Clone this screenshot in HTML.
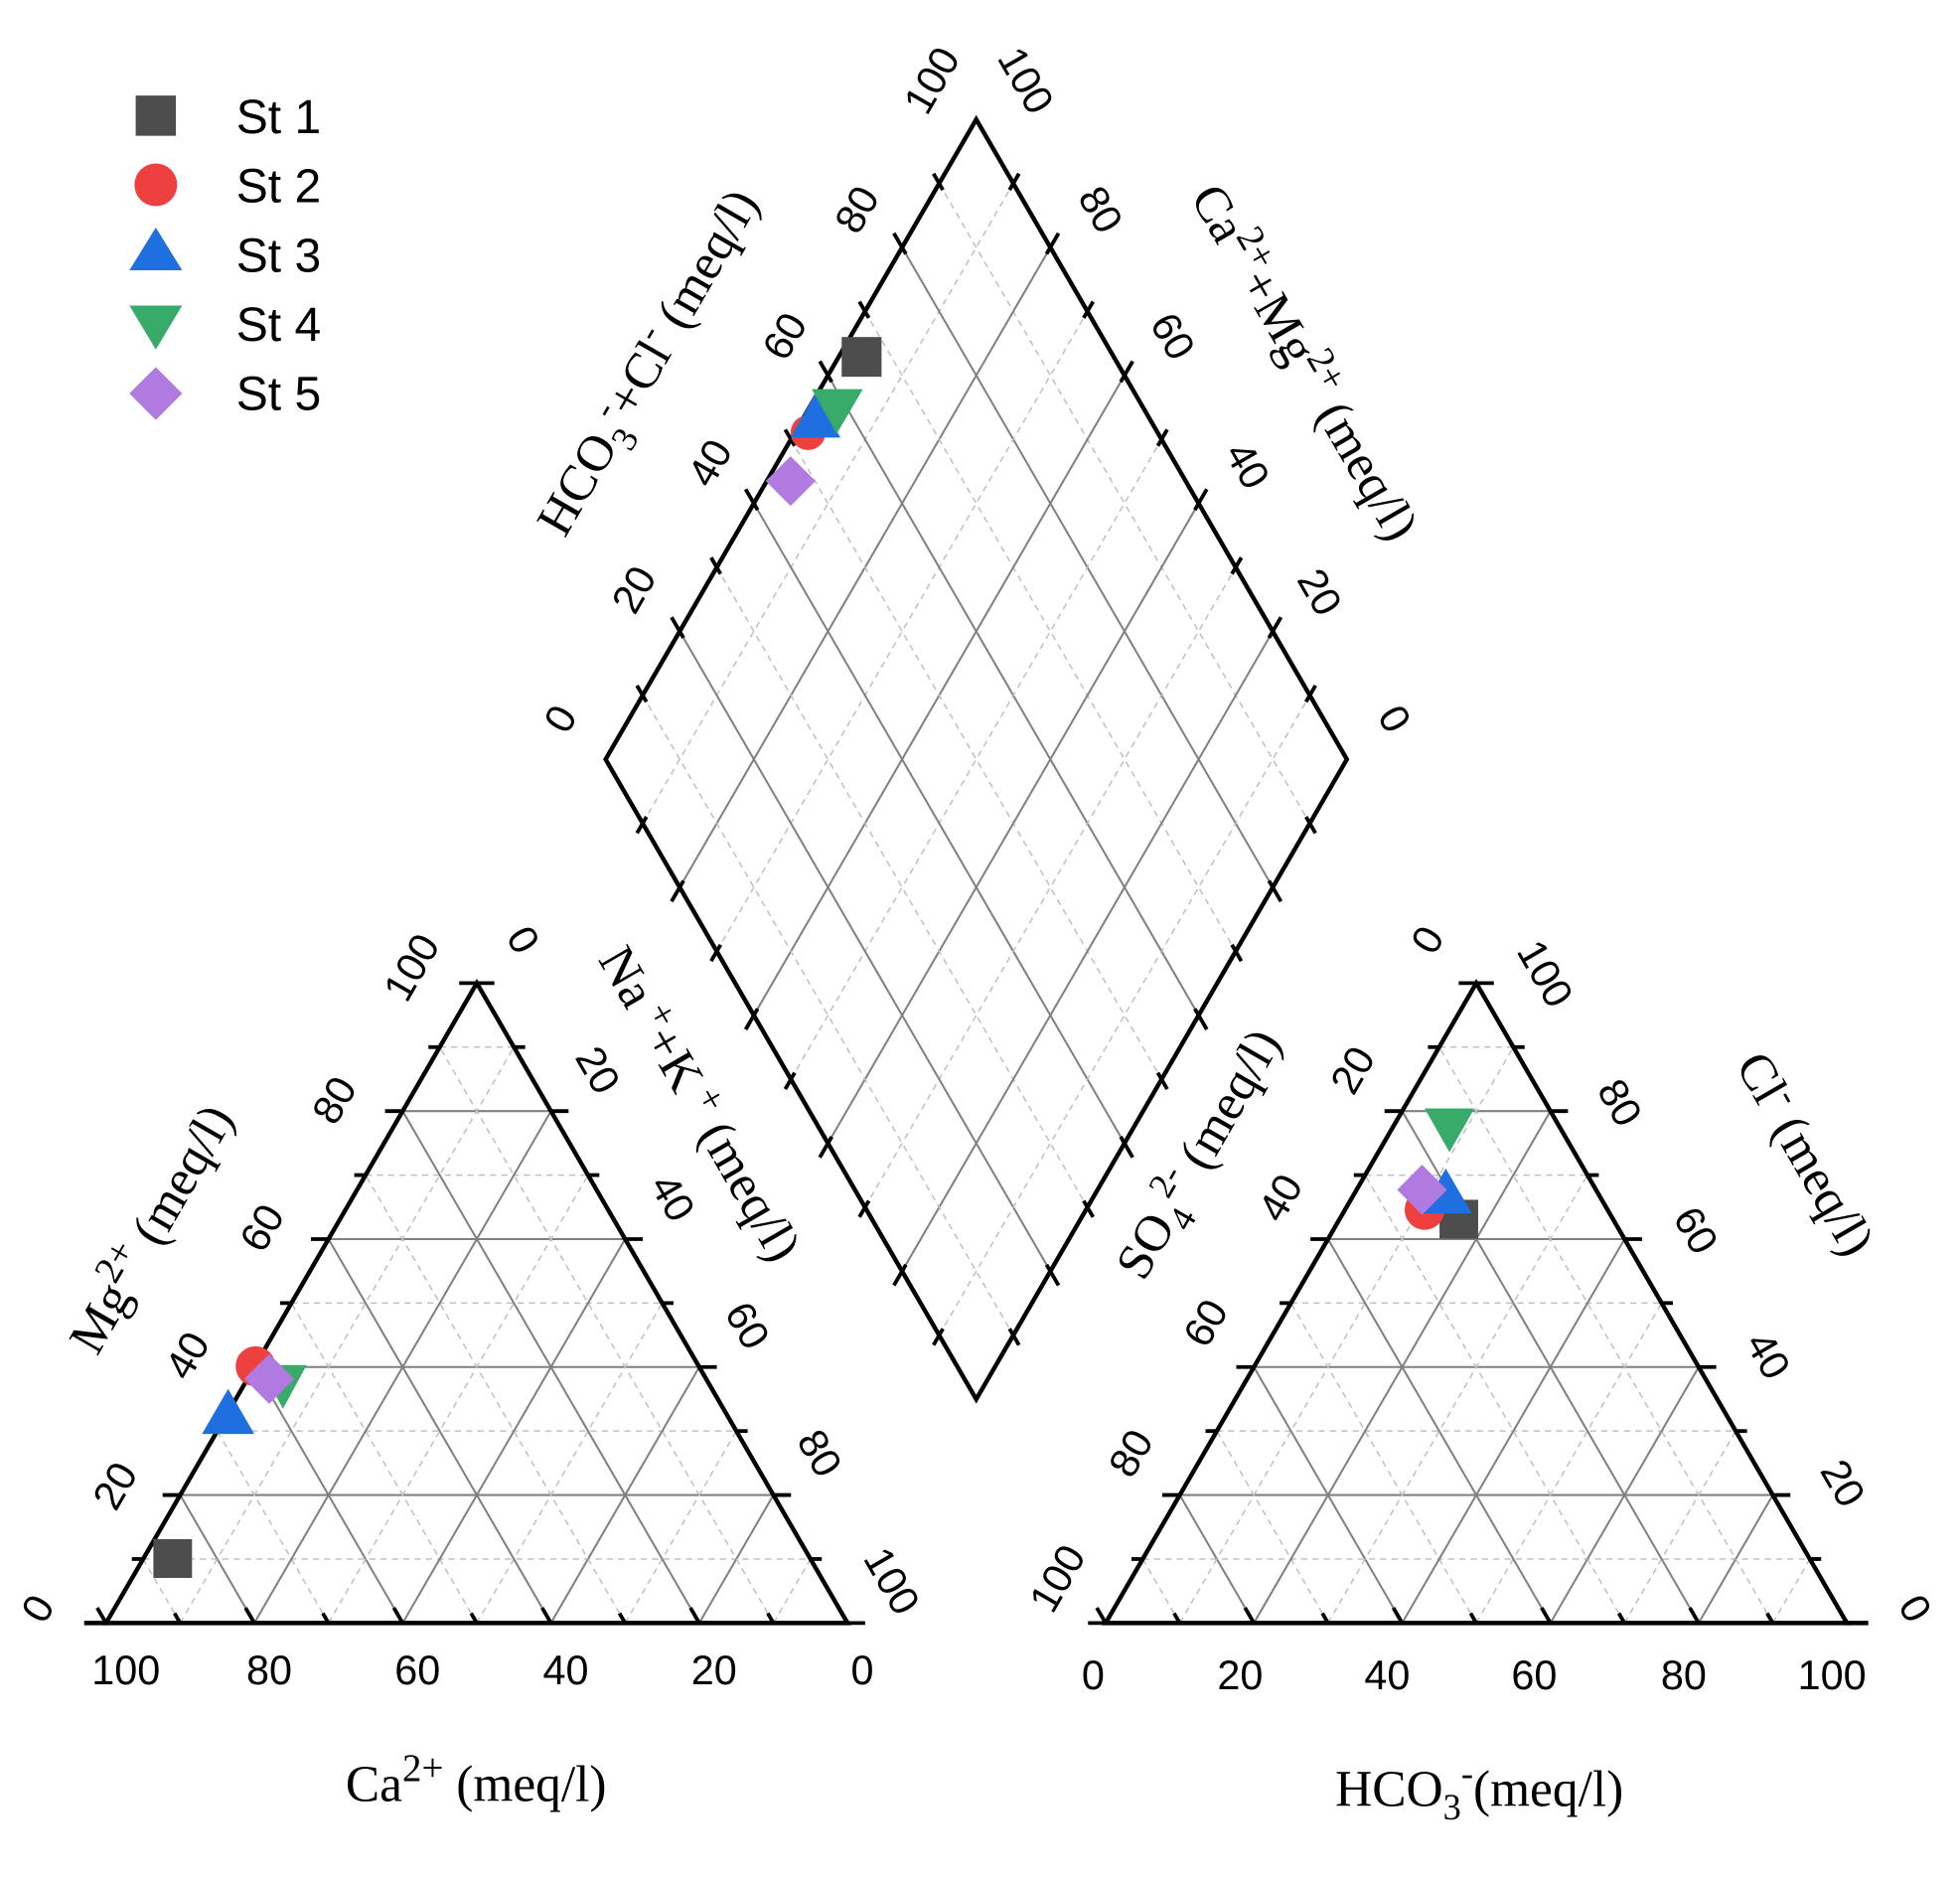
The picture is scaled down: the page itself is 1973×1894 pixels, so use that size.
<!DOCTYPE html>
<html><head><meta charset="utf-8"><style>
html,body{margin:0;padding:0;background:#fff}
svg{display:block}
.tk{font-family:"Liberation Sans",sans-serif;font-size:33px;fill:#000}
.tt{font-family:"Liberation Serif",serif;font-size:41px;fill:#000}
.lg{font-family:"Liberation Sans",sans-serif;font-size:38px;fill:#000}
</style></head><body>
<svg id="s" width="1973" height="1894" viewBox="0 0 1560 1497" preserveAspectRatio="none" xmlns="http://www.w3.org/2000/svg">
<g id="grid"></g>
<g id="frame" fill="none" stroke="#000" stroke-width="3.5" stroke-linejoin="miter">
<polygon points="84.4,1291 674.6,1291 379.5,782"/>
<polygon points="880,1291 1470,1291 1175,782"/>
<polygon points="482,604 777,95 1072,604 777,1113"/>
<line x1="67" y1="1291" x2="84.4" y2="1291"/>
<line x1="1470" y1="1291" x2="1487" y2="1291"/>
</g>
<g id="ticks" stroke="#000" stroke-width="3"></g>

<g transform="translate(84.4,1291) scale(0.9916,0.996) translate(-85,-1298)">
<g class="tk" text-anchor="middle">
<text x="101" y="1347">100</text><text x="216" y="1347">80</text><text x="335" y="1347">60</text><text x="454" y="1347">40</text><text x="573" y="1347">20</text><text x="692" y="1347">0</text>
<text transform="translate(40,1292) rotate(-60)">0</text>
<text transform="translate(102,1194) rotate(-60)">20</text>
<text transform="translate(160,1090) rotate(-60)">40</text>
<text transform="translate(220,988) rotate(-60)">60</text>
<text transform="translate(278,886) rotate(-60)">80</text>
<text transform="translate(340,780) rotate(-60)">100</text>
<text transform="translate(410,758) rotate(60)">0</text>
<text transform="translate(470,862) rotate(60)">20</text>
<text transform="translate(530,964) rotate(60)">40</text>
<text transform="translate(590,1066) rotate(60)">60</text>
<text transform="translate(648,1168) rotate(60)">80</text>
<text transform="translate(706,1270) rotate(60)">100</text>
</g>
<g class="tt" text-anchor="middle">
<text x="382" y="1440">Ca<tspan dy="-16" font-size="31">2+</tspan><tspan dy="16"> (meq/l)</tspan></text>
<text transform="translate(133,990) rotate(-60)">Mg<tspan dy="-16" font-size="31">2+</tspan><tspan dy="16"> (meq/l)</tspan></text>
<text transform="translate(550,890) rotate(60)">Na<tspan dy="-13" font-size="31"> +</tspan><tspan dy="13">+K</tspan><tspan dy="-13" font-size="31"> +</tspan><tspan dy="13"> (meq/l)</tspan></text>
</g>
<rect x="123" y="1231" width="31" height="31" fill="#4d4d4d"/>
<circle cx="205" cy="1093" r="16" fill="#ef4040"/>
<polygon points="183,1111 204,1147 162,1147" fill="#1f6fe0"/>
<polygon points="208,1092 246,1092 227,1127" fill="#38aa6a"/>
<polygon points="216,1083 236,1103 216,1123 196,1103" fill="#b07ae0"/>
</g>

<g transform="translate(880,1291) scale(0.9916,0.996) translate(-882,-1298)">
<g class="tk" text-anchor="middle">
<text x="872" y="1351">0</text><text x="990" y="1351">20</text><text x="1108" y="1351">40</text><text x="1226" y="1351">60</text><text x="1346" y="1351">80</text><text x="1465" y="1351">100</text>
<text transform="translate(1150,758) rotate(-60)">0</text>
<text transform="translate(1090,862) rotate(-60)">20</text>
<text transform="translate(1032,964) rotate(-60)">40</text>
<text transform="translate(972,1064) rotate(-60)">60</text>
<text transform="translate(912,1168) rotate(-60)">80</text>
<text transform="translate(853,1268) rotate(-60)">100</text>
<text transform="translate(1225,785) rotate(60)">100</text>
<text transform="translate(1285,888) rotate(60)">80</text>
<text transform="translate(1346,990) rotate(60)">60</text>
<text transform="translate(1404,1090) rotate(60)">40</text>
<text transform="translate(1464,1192) rotate(60)">20</text>
<text transform="translate(1522,1292) rotate(60)">0</text>
</g>
<g class="tt" text-anchor="middle">
<text x="1182" y="1444">HCO<tspan dy="11" font-size="29">3</tspan><tspan dy="-27" font-size="29">-</tspan><tspan dy="16">(meq/l)</tspan></text>
<text transform="translate(968,930) rotate(-60)">SO<tspan dy="11" font-size="29">4</tspan><tspan dy="-27" font-size="29">2-</tspan><tspan dy="16"> (meq/l)</tspan></text>
<text transform="translate(1432,930) rotate(60)">Cl<tspan dy="-16" font-size="29">-</tspan><tspan dy="16"> (meq/l)</tspan></text>
</g>
<rect x="1150" y="960" width="31" height="31" fill="#4d4d4d"/>
<circle cx="1138" cy="968" r="16" fill="#ef4040"/>
<polygon points="1155,935 1176,971 1134,971" fill="#1f6fe0"/>
<polygon points="1138,887 1178,887 1158,922" fill="#38aa6a"/>
<polygon points="1136,932 1156,952 1136,972 1116,952" fill="#b07ae0"/>
</g>

<g transform="translate(777,604) scale(0.9916,0.988) translate(-780,-603)">
<g class="tk" text-anchor="middle">
<text transform="translate(456,576) rotate(-60)">0</text>
<text transform="translate(515,472) rotate(-60)">20</text>
<text transform="translate(576,370) rotate(-60)">40</text>
<text transform="translate(636,268) rotate(-60)">60</text>
<text transform="translate(694,166) rotate(-60)">80</text>
<text transform="translate(754,62) rotate(-60)">100</text>
<text transform="translate(810,62) rotate(60)">100</text>
<text transform="translate(870,166) rotate(60)">80</text>
<text transform="translate(928,268) rotate(60)">60</text>
<text transform="translate(988,372) rotate(60)">40</text>
<text transform="translate(1046,474) rotate(60)">20</text>
<text transform="translate(1106,576) rotate(60)">0</text>
</g>
<g class="tt" text-anchor="middle">
<text transform="translate(528,290) rotate(-60)">HCO<tspan dy="11" font-size="29">3</tspan><tspan dy="-27" font-size="29">-</tspan><tspan dy="16">+Cl</tspan><tspan dy="-16" font-size="29">-</tspan><tspan dy="16"> (meq/l)</tspan></text>
<text transform="translate(1032,290) rotate(60)">Ca<tspan dy="-16" font-size="31">2+</tspan><tspan dy="16">+Mg</tspan><tspan dy="-16" font-size="31">2+</tspan><tspan dy="16"> (meq/l)</tspan></text>
</g>
<rect x="672" y="263" width="32" height="32" fill="#4d4d4d"/>
<circle cx="645" cy="340" r="14" fill="#ef4040"/>
<polygon points="651,308 671,344 631,344" fill="#1f6fe0"/>
<polygon points="648,305 689,305 668,341" fill="#38aa6a"/>
<polygon points="631,359 651,379 631,399 611,379" fill="#b07ae0"/>
</g>

<g>
<rect x="108" y="76" width="32" height="32" fill="#4d4d4d"/>
<circle cx="124" cy="147" r="17" fill="#ef4040"/>
<polygon points="124,181 145,215 103,215" fill="#1f6fe0"/>
<polygon points="103,243 145,243 124,278" fill="#38aa6a"/>
<polygon points="124,292 145,313 124,334 103,313" fill="#b07ae0"/>
<text class="lg" x="188" y="106">St 1</text>
<text class="lg" x="188" y="161">St 2</text>
<text class="lg" x="188" y="216">St 3</text>
<text class="lg" x="188" y="271">St 4</text>
<text class="lg" x="188" y="326">St 5</text>
</g>
</svg>
<script>
var NS="http://www.w3.org/2000/svg",G=document.getElementById("grid"),T=document.getElementById("ticks");
function ln(g,a,b,st){var l=document.createElementNS(NS,"line");l.setAttribute("x1",a[0]);l.setAttribute("y1",a[1]);l.setAttribute("x2",b[0]);l.setAttribute("y2",b[1]);for(var k in st)l.setAttribute(k,st[k]);g.appendChild(l);}
function lp(a,b,t){return [a[0]+(b[0]-a[0])*t,a[1]+(b[1]-a[1])*t];}
var solid={stroke:"#808080","stroke-width":1.6},dash={stroke:"#c0c0c0","stroke-width":1.2,"stroke-dasharray":"5,4"};
function tick(p,q,len){var dx=p[0]-q[0],dy=p[1]-q[1],d=Math.hypot(dx,dy);ln(T,p,[p[0]+dx/d*len,p[1]+dy/d*len],{});}
function tri(A,B,C){
 for(var i=1;i<10;i++){var t=i/10,st=i%2?dash:solid;
  ln(G,lp(A,C,t),lp(B,C,t),st);
  ln(G,lp(A,B,t),lp(A,C,t),st);
  ln(G,lp(B,A,t),lp(B,C,t),st);
 }
 for(var i=0;i<=10;i++){var t=i/10,L=i%2?9:14;
  var p=lp(A,C,t);tick(p,[p[0]+10,p[1]],L);
  var b=lp(A,B,t);tick(b,[b[0]-(C[0]-B[0]),b[1]-(C[1]-B[1])],L);
  var r=lp(B,C,t);tick(r,[r[0]-0.5*(B[0]-A[0]),r[1]],L);
 }
}
tri([84.4,1291],[674.6,1291],[379.5,782]);
tri([880,1291],[1470,1291],[1175,782]);
var L=[482,604],Tp=[777,95],R=[1072,604],Bm=[777,1113];
for(var i=1;i<10;i++){var t=i/10,st=i%2?dash:solid;
 ln(G,lp(L,Bm,t),lp(Tp,R,t),st);
 ln(G,lp(Tp,L,t),lp(R,Bm,t),st);
}
for(var i=1;i<10;i++){var t=i/10,Ln=i%2?9:13;
 var pts=[[lp(L,Tp,t),[R[0]-Tp[0],R[1]-Tp[1]]],[lp(R,Tp,t),[L[0]-Tp[0],L[1]-Tp[1]]],[lp(L,Bm,t),[R[0]-Bm[0],R[1]-Bm[1]]],[lp(R,Bm,t),[L[0]-Bm[0],L[1]-Bm[1]]]];
 pts.forEach(function(e){var p=e[0],v=e[1],d=Math.hypot(v[0],v[1]);ln(T,[p[0]-v[0]/d*Ln,p[1]-v[1]/d*Ln],[p[0]+v[0]/d*6,p[1]+v[1]/d*6],{});});
}
</script>
</body></html>
